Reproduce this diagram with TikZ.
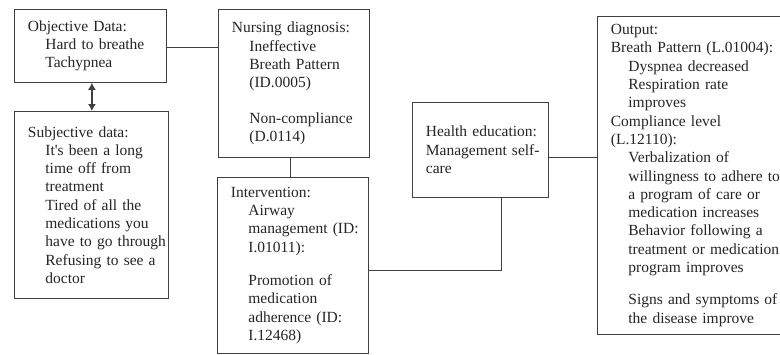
\documentclass[tikz,border=0pt]{standalone}
\usepackage{fontspec}
\setmainfont{Liberation Serif}
\usetikzlibrary{arrows.meta,positioning,calc}
\newcommand{\hdr}{\hspace*{13.5pt}}
\newcommand{\itm}{\hspace*{31pt}}

\begin{document}
\begin{tikzpicture}[
  x=1pt, y=-1pt,
  font=\fontsize{15.5}{18.3}\selectfont, >={Latex[length=7pt,width=8pt]},
  box/.style={draw=black!75,line width=0.8pt,anchor=north west,inner xsep=0pt,inner ysep=0pt,
              align=left,text=black!85},
  link/.style={draw=black!75,line width=0.8pt}
]
\fill[white] (0,0) rectangle (780,354);
\useasboundingbox (0,0) rectangle (780,354);
\node[box,text width=152pt,minimum height=73pt] (obj) at (14,9)
  {\hdr Objective Data:\\\itm Hard to breathe\\\itm Tachypnea};
\node[box,text width=154pt,minimum height=187pt] (subj) at (14,111)
  {\hdr Subjective data:\\\itm It\textquotesingle s been a long\\\itm time off from\\\itm treatment\\
   \itm Tired of all the\\\itm medications you\\\itm have to go through\\
   \itm Refusing to see a\\\itm doctor};
\node[box,text width=151pt,minimum height=148pt] (nurs) at (218,9)
  {\hdr Nursing diagnosis:\\\itm Ineffective\\\itm Breath Pattern\\\itm (ID.0005)\\[17pt]
   \itm Non-compliance\\\itm (D.0114)};
\node[box,text width=151pt,minimum height=176pt] (intv) at (217,177)
  {\hdr Intervention:\\\itm Airway\\\itm management (ID:\\\itm I.01011):\\[15pt]
   \itm Promotion of\\\itm medication\\\itm adherence (ID:\\\itm I.12468)};
\node[box,text width=136pt,minimum height=95pt] (edu) at (412,102)
  {\hdr Health education:\\\hdr Management self-\\\hdr care};
\node[box,text width=200pt,minimum height=318pt] (outp) at (597,16)
  {\hdr Output:\\\hdr Breath Pattern (L.01004):\\\itm Dyspnea decreased\\
   \itm Respiration rate\\\itm improves\\\hdr Compliance level\\\hdr (L.12110):\\
   \itm Verbalization of\\\itm willingness to adhere to\\\itm a program of care or\\
   \itm medication increases\\\itm Behavior following a\\\itm treatment or medication\\
   \itm program improves\\[14pt]\itm Signs and symptoms of\\\itm the disease improve};
% connectors
\draw[link,line width=2pt,<->] ([xshift=1.5pt]obj.south) -- ([xshift=1.5pt]obj.south |- subj.north);
\draw[link] ([yshift=-1.5pt]obj.east) -- ([yshift=-1.5pt]obj.east -| nurs.west);
\draw[link] ([xshift=-4pt]nurs.south) -- ([xshift=-4pt]nurs.south |- intv.north);
\draw[link] ([yshift=-5pt]intv.east) -| ([xshift=21pt]edu.south);
\draw[link] ([yshift=-7pt]edu.east) -- ([yshift=-7pt]edu.east -| outp.west);
\end{tikzpicture}
\end{document}
